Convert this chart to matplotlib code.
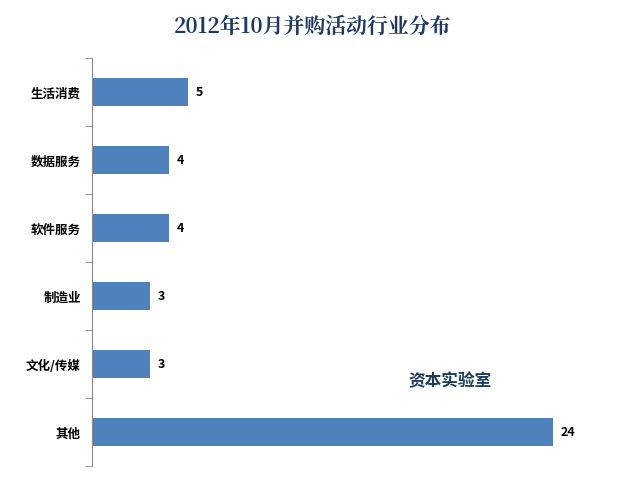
import matplotlib
matplotlib.use("Agg")
import matplotlib.pyplot as plt

categories = ["生活消费", "数据服务", "软件服务", "制造业", "文化/传媒", "其他"]
values = [5, 4, 4, 3, 3, 24]

plt.rcParams["font.family"] = ["Noto Sans CJK SC", "DejaVu Sans"]

fig = plt.figure(figsize=(6.25, 4.89), dpi=100)
ax = fig.add_axes([92 / 625, 1 - 467 / 489, 508 / 625, 408 / 489])

ys = list(range(len(categories)))
ax.barh(ys, values, height=0.4, color="#4f81bd")
for y, v in zip(ys, values):
    ax.text(v + 0.4, y, str(v), va="center", ha="left", fontsize=9, fontweight="bold")

ax.set_ylim(len(categories) - 0.5, -0.5)
ax.set_xlim(0, 508 / 19.2)
ax.set_yticks(ys)
ax.set_yticklabels(categories, fontsize=9, fontweight="bold")
ax.tick_params(axis="y", length=0, pad=8)
ax.set_yticks([i - 0.5 for i in range(len(categories) + 1)], minor=True)
ax.tick_params(axis="y", which="minor", length=5, color="#888888")
ax.set_xticks([])
for s in ["top", "right", "bottom"]:
    ax.spines[s].set_visible(False)
ax.spines["left"].set_color("#888888")

fig.text(0.5, 1 - 27 / 489, "2012年10月并购活动行业分布", ha="center", va="center",
         fontsize=15, fontweight="bold", color="#1f3a5f",
         family=["Noto Serif CJK SC", "Noto Sans CJK SC"])
fig.text(450 / 625, 1 - 381 / 489, "资本实验室", ha="center", va="center",
         fontsize=12, fontweight="bold", color="#1b3d5a")

fig.savefig("out.png", dpi=100)
